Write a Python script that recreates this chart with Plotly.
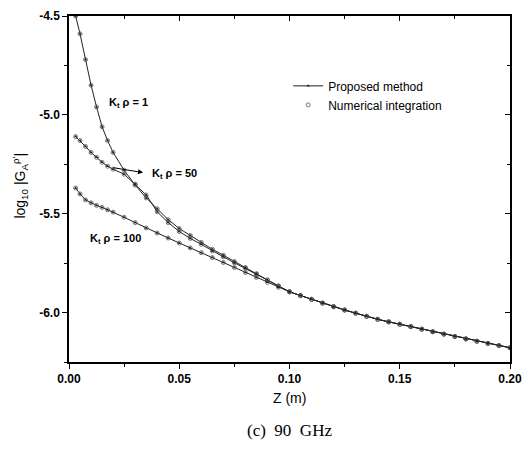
import plotly.graph_objects as go

# ---- data ----
z_head = [0.003, 0.005, 0.0075, 0.01, 0.0125, 0.015, 0.0175, 0.02, 0.025, 0.03,
          0.035, 0.04, 0.045, 0.05, 0.055, 0.06, 0.065, 0.07, 0.075, 0.08,
          0.085, 0.09, 0.095, 0.10]
z_tail = [0.105, 0.11, 0.115, 0.12, 0.125, 0.13, 0.135, 0.14, 0.145, 0.15,
          0.155, 0.16, 0.165, 0.17, 0.175, 0.18, 0.185, 0.19, 0.195, 0.20]

k1_head = [-4.50, -4.59, -4.72, -4.85, -4.96, -5.06, -5.13, -5.19, -5.28, -5.355,
           -5.42, -5.475, -5.53, -5.575, -5.61, -5.645, -5.68, -5.71, -5.742, -5.772,
           -5.803, -5.835, -5.865, -5.895]
k50_head = [-5.11, -5.13, -5.16, -5.19, -5.215, -5.24, -5.26, -5.275, -5.30, -5.35,
            -5.405, -5.49, -5.545, -5.59, -5.625, -5.655, -5.688, -5.718, -5.748, -5.776,
            -5.806, -5.836, -5.866, -5.895]
k100_head = [-5.37, -5.40, -5.43, -5.445, -5.458, -5.468, -5.48, -5.492, -5.518, -5.545,
             -5.572, -5.598, -5.623, -5.648, -5.673, -5.697, -5.722, -5.747, -5.772, -5.797,
             -5.822, -5.847, -5.872, -5.895]
common_tail = [-5.914, -5.933, -5.952, -5.970, -5.987, -6.003, -6.019, -6.034, -6.047, -6.059,
               -6.071, -6.084, -6.097, -6.109, -6.121, -6.133, -6.145, -6.156, -6.167, -6.178]

z = z_head + z_tail
series = {
    "1": k1_head + common_tail,
    "50": k50_head + common_tail,
    "100": k100_head + common_tail,
}

x_ticks = [0.0, 0.05, 0.10, 0.15, 0.20]
x_ticktext = ["0.00", "0.05", "0.10", "0.15", "0.20"]
y_ticks = [-6.0, -5.5, -5.0, -4.5]
y_ticktext = ["-6.0", "-5.5", "-5.0", "-4.5"]

FONT = "Liberation Sans, Arial, sans-serif"

fig = go.Figure()
first = True
for name, ys in series.items():
    fig.add_trace(go.Scatter(
        x=z, y=ys, mode="lines+markers", name="Proposed method",
        line=dict(color="#222", width=1),
        marker=dict(symbol="triangle-up", size=3, color="#222"),
        showlegend=first, legendrank=1))
    fig.add_trace(go.Scatter(
        x=z, y=ys, mode="markers", name="Numerical integration",
        marker=dict(symbol="circle-open", size=4, color="#555", line=dict(width=0.8)),
        showlegend=first, legendrank=2))
    first = False

# dummy trace for top/right mirror axes
fig.add_trace(go.Scatter(x=[0, 0.2], y=[-6.25, -4.5], xaxis="x2", yaxis="y2",
                         mode="markers", marker=dict(opacity=0), showlegend=False,
                         hoverinfo="skip"))

axis_common = dict(showgrid=False, zeroline=False, showline=True, linecolor="black",
                   linewidth=1.5, tickcolor="black", tickwidth=1.2, automargin=False)

tickfont = dict(size=12, family=FONT, color="black", weight="bold")

fig.update_layout(
    width=523, height=451,
    margin=dict(l=69, r=13, t=16, b=89),
    paper_bgcolor="white", plot_bgcolor="white",
    font=dict(family=FONT, size=12, color="black"),
    xaxis=dict(range=[0, 0.2], tickvals=x_ticks, ticktext=x_ticktext, ticks="outside",
               ticklen=5, minor=dict(dtick=0.025, tick0=0, ticks="outside", ticklen=3,
                                     tickcolor="black"),
               tickfont=tickfont, **axis_common),
    yaxis=dict(range=[-6.25, -4.5], tickvals=y_ticks, ticktext=y_ticktext, ticks="outside",
               ticklen=5, minor=dict(dtick=0.25, tick0=-4.5, ticks="outside", ticklen=3,
                                     tickcolor="black"),
               tickfont=tickfont, **axis_common),
    xaxis2=dict(range=[0, 0.2], overlaying="x", side="top", tickvals=x_ticks,
                showticklabels=False, ticks="inside", ticklen=5,
                minor=dict(dtick=0.025, tick0=0, ticks="inside", ticklen=3, tickcolor="black"),
                **axis_common),
    yaxis2=dict(range=[-6.25, -4.5], overlaying="y", side="right", tickvals=y_ticks,
                showticklabels=False, ticks="inside", ticklen=5,
                minor=dict(dtick=0.25, tick0=-4.5, ticks="inside", ticklen=3, tickcolor="black"),
                **axis_common),
    legend=dict(x=0.497, y=0.84, xanchor="left", yanchor="top", bgcolor="rgba(0,0,0,0)",
                font=dict(size=12, family=FONT), tracegroupgap=0, itemwidth=30),
    showlegend=True,
)

kfont = dict(size=11, weight="bold")
ann = [
    dict(x=0.0172, y=-4.94, xref="x", yref="y", text="K<sub>t</sub> ρ = 1",
         showarrow=False, xanchor="left", font=kfont),
    dict(x=0.0367, y=-5.30, xref="x", yref="y", text="K<sub>t</sub> ρ = 50",
         showarrow=False, xanchor="left", font=kfont),
    dict(x=0.0086, y=-5.627, xref="x", yref="y", text="K<sub>t</sub> ρ = 100",
         showarrow=False, xanchor="left", font=kfont),
    dict(x=0.0336, y=-5.292, ax=0.0195, ay=-5.266, xref="x", yref="y", axref="x", ayref="y",
         text="", showarrow=True, arrowhead=2, arrowsize=1, arrowwidth=1, arrowcolor="black"),
    dict(x=0.5, y=-0.104, xref="paper", yref="paper", text="Z (m)", showarrow=False,
         font=dict(size=14), yanchor="middle"),
    dict(x=0.5, y=-0.197, xref="paper", yref="paper", text="(c)  90  GHz", showarrow=False,
         font=dict(size=17, family="Liberation Serif, Times New Roman, serif"), yanchor="middle"),
    dict(x=-0.111, y=0.51, xref="paper", yref="paper",
         text="log<sub>10</sub> |G<sub>A</sub><sup>ρ'</sup>|", showarrow=False, textangle=-90,
         font=dict(size=14), xanchor="center", yanchor="middle"),
]
fig.update_layout(annotations=ann)

fig.write_html("out.html")
